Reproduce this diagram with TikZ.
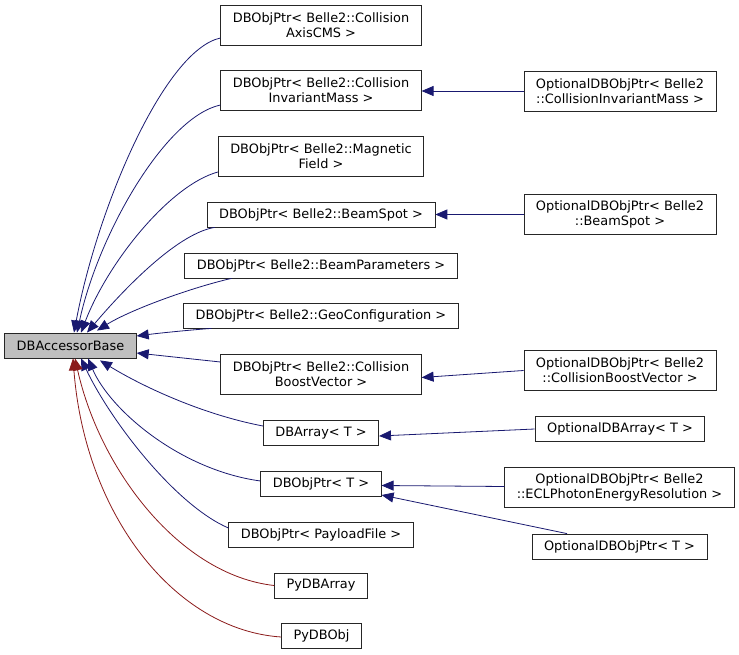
\documentclass[tikz,border=0pt]{standalone}
\usepackage{fontspec}
\setmainfont{DejaVu Sans}
\usepackage{xcolor}
\usepackage{tikz}
\usetikzlibrary{arrows.meta}
\definecolor{pubblue}{HTML}{191970}
\definecolor{privred}{HTML}{8B1A1A}
\definecolor{basegray}{HTML}{BFBFBF}
\begin{document}
\begin{tikzpicture}[x=1pt, y=-1pt,
	cls/.style={draw=black!85, line width=0.8pt, fill=white, font=\fontsize{12.9}{14.7}\selectfont, align=center, inner xsep=12pt, inner ysep=0pt, minimum height=25pt},
	cls2/.style={cls, minimum height=40pt},
	pub/.style={draw=pubblue, line width=0.8pt, -{Triangle[length=12pt,width=10pt]}},
	priv/.style={pub, draw=privred}]
	\useasboundingbox (0,0) rectangle (739,655);
	\node[cls, fill=basegray] (base) at (70.5,345.5) {DBAccessorBase};
	\node[cls2] (axis) at (321,25) {DBObjPtr< Belle2::Collision\\AxisCMS >};
	\node[cls2] (invmass) at (321,90.5) {DBObjPtr< Belle2::Collision\\InvariantMass >};
	\node[cls2] (magfield) at (321,156) {DBObjPtr< Belle2::Magnetic\\Field >};
	\node[cls] (beamspot) at (321,214.5) {DBObjPtr< Belle2::BeamSpot >};
	\node[cls] (beampar) at (321,265.5) {DBObjPtr< Belle2::BeamParameters >};
	\node[cls] (geoconf) at (321,315.5) {DBObjPtr< Belle2::GeoConfiguration >};
	\node[cls2] (boost) at (321,374) {DBObjPtr< Belle2::Collision\\BoostVector >};
	\node[cls] (dbarray) at (321,433) {DBArray< T >};
	\node[cls] (dbobjptr) at (321,483.5) {DBObjPtr< T >};
	\node[cls] (payload) at (321,534.5) {DBObjPtr< PayloadFile >};
	\node[cls] (pyarray) at (321,585.5) {PyDBArray};
	\node[cls] (pyobj) at (321.5,636) {PyDBObj};
	\node[cls2] (optinvmass) at (620,91) {OptionalDBObjPtr< Belle2\\::CollisionInvariantMass >};
	\node[cls2] (optbeamspot) at (620,214.5) {OptionalDBObjPtr< Belle2\\::BeamSpot >};
	\node[cls2] (optboost) at (620,370.5) {OptionalDBObjPtr< Belle2\\::CollisionBoostVector >};
	\node[cls] (optarray) at (620,429) {OptionalDBArray< T >};
	\node[cls2] (optecl) at (619.5,487.5) {OptionalDBObjPtr< Belle2\\::ECLPhotonEnergyResolution >};
	\node[cls] (optobjptr) at (619.5,546.5) {OptionalDBObjPtr< T >};
	\draw[pub] ([yshift=-13pt]axis.west) .. controls (165,50) and (98,205) .. ([xshift=3.5pt]base.north);
	\draw[pub] ([yshift=-14.5pt]invmass.west) .. controls (165,117) and (98,235) .. ([xshift=6.5pt]base.north);
	\draw[pub] ([yshift=-16pt]magfield.west) .. controls (170,185) and (108,262) .. ([xshift=10.5pt]base.north);
	\draw[pub] ([xshift=8pt]beamspot.south west) .. controls (180,233) and (130,282) .. ([xshift=16.5pt]base.north);
	\draw[pub] ([xshift=47pt]beampar.south west) .. controls (190,288) and (130,310) .. ([xshift=26.5pt,yshift=2pt]base.north);
	\draw[pub] ([xshift=28pt]geoconf.south west) .. controls (190,330) and (160,333) .. ([yshift=9.5pt]base.east);
	\draw[pub] ([yshift=12pt]boost.west) -- ([yshift=-7.5pt]base.east);
	\draw[pub] ([yshift=7pt]dbarray.west) .. controls (200,414) and (140,385) .. ([xshift=29.5pt,yshift=-2pt]base.south);
	\draw[pub] ([yshift=2.5pt]dbobjptr.west) .. controls (180,470) and (110,410) .. ([xshift=17.5pt]base.south);
	\draw[pub] ([yshift=6.5pt]payload.west) .. controls (175,505) and (110,420) .. ([xshift=10.5pt]base.south);
	\draw[priv] (pyarray.west) .. controls (180,575) and (100,470) .. ([xshift=4.5pt]base.south);
	\draw[priv] ([yshift=-1pt]pyobj.west) .. controls (175,630) and (85,515) .. ([xshift=2.5pt]base.south);
	\draw[pub] (optinvmass.west) -- ([yshift=-0.5pt]invmass.east);
	\draw[pub] (optbeamspot.west) -- (beamspot.east);
	\draw[pub] (optboost.west) -- ([yshift=-3.5pt]boost.east);
	\draw[pub] (optarray.west) -- ([yshift=-3pt]dbarray.east);
	\draw[pub] ([yshift=1pt]optecl.west) -- ([yshift=-2pt]dbobjptr.east);
	\draw[pub] ([xshift=-52.5pt]optobjptr.north) -- ([yshift=-11.5pt]dbobjptr.east);
\end{tikzpicture}
\end{document}
